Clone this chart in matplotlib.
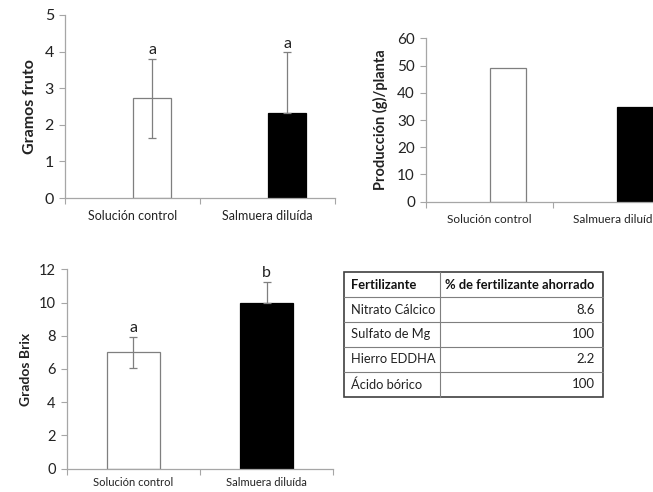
import matplotlib
matplotlib.use("Agg")
import matplotlib.pyplot as plt
from matplotlib.patches import Rectangle

plt.rcParams['font.family'] = ['Lato', 'DejaVu Sans']

categories = ["Solución control", "Salmuera diluída"]

fruit_g = [2.72, 2.33]
fruit_err_low = [1.07, 0.0]
fruit_err_high = [1.07, 1.65]
fruit_letters = ["a", "a"]

prod_g = [49.0, 34.7]

brix = [7.0, 10.0]
brix_err_low = [0.95, 0.0]
brix_err_high = [0.95, 1.25]
brix_letters = ["a", "b"]

table_header = ["Fertilizante", "% de fertilizante ahorrado"]
table_names = ["Nitrato Cálcico", "Sulfato de Mg", "Hierro EDDHA", "Ácido bórico"]
table_values = ["8.6", "100", "2.2", "100"]

W, H = 653, 492
fig = plt.figure(figsize=(W / 100, H / 100), dpi=100)

AX_COL = '#a6a6a6'
FACE = ['white', 'black']
EDGE = ['#7f7f7f', 'black']


def px_axes(x0, y_top, x1, y_bot):
    return fig.add_axes([x0 / W, 1 - y_bot / H, (x1 - x0) / W, (y_bot - y_top) / H])


def style(ax, ymax, step, ylabel, lab_size, tick_size, xlab_size, xlab_pad):
    ax.set_xlim(-0.5, 1.5)
    ax.set_ylim(0, ymax)
    ax.set_yticks(range(0, ymax + 1, step))
    for s in ['top', 'right']:
        ax.spines[s].set_visible(False)
    for s in ['left', 'bottom']:
        ax.spines[s].set_color(AX_COL)
        ax.spines[s].set_linewidth(0.9)
    ax.set_xticks([-0.5, 0.5, 1.5])
    ax.set_xticklabels([])
    ax.set_xticks([0, 1], minor=True)
    ax.set_xticklabels(categories, minor=True, fontsize=xlab_size, color='#222222')
    ax.tick_params(axis='x', which='minor', length=0, pad=xlab_pad)
    ax.tick_params(axis='x', which='major', length=4, color=AX_COL, direction='out')
    ax.tick_params(axis='y', length=4, color=AX_COL, labelsize=tick_size, labelcolor='#222222', pad=4)
    ax.set_ylabel(ylabel, fontsize=lab_size, fontweight='bold', color='#222222')
    ax.patch.set_alpha(0)


# Panel 1
ax1 = px_axes(65, 15, 335, 198)
for i in range(2):
    ax1.bar(i + 0.005, fruit_g[i], width=0.28, align='edge', color=FACE[i], edgecolor=EDGE[i], linewidth=0.9, zorder=2)
    xc = i + 0.145
    ax1.errorbar(xc, fruit_g[i], yerr=[[fruit_err_low[i]], [fruit_err_high[i]]], fmt='none',
                 ecolor='#7f7f7f', elinewidth=0.9, capsize=3, capthick=0.9, zorder=3)
    ax1.text(xc, fruit_g[i] + fruit_err_high[i] + 0.05, fruit_letters[i], ha='center', va='bottom',
             fontsize=11.5, color='#222222')
style(ax1, 5, 1, "Gramos fruto", 11.5, 11.5, 9, 9)
ax1.yaxis.set_label_coords(-0.105, 0.5)

# Panel 2
ax2 = px_axes(426, 38.3, 679.4, 201.7)
for i in range(2):
    ax2.bar(i + 0.005, prod_g[i], width=0.284, align='edge', color=FACE[i], edgecolor=EDGE[i], linewidth=0.9, zorder=2)
style(ax2, 60, 10, "Producción (g)/planta", 10.5, 11, 8.5, 9)
ax2.yaxis.set_label_coords(-0.15, 0.5)

# Panel 3
ax3 = px_axes(66.7, 269.3, 333.3, 468.7)
for i in range(2):
    ax3.bar(i, brix[i], width=0.40, color=FACE[i], edgecolor=EDGE[i], linewidth=0.9, zorder=2)
    ax3.errorbar(i, brix[i], yerr=[[brix_err_low[i]], [brix_err_high[i]]], fmt='none',
                 ecolor='#7f7f7f', elinewidth=0.9, capsize=3, capthick=0.9, zorder=3)
    ax3.text(i, brix[i] + brix_err_high[i] + 0.1, brix_letters[i], ha='center', va='bottom',
             fontsize=11.5, color='#222222')
style(ax3, 12, 2, "Grados Brix", 10, 10.5, 8, 6)
ax3.yaxis.set_label_coords(-0.13, 0.5)

# Table
axt = fig.add_axes([0, 0, 1, 1])
axt.set_xlim(0, W)
axt.set_ylim(H, 0)
axt.axis('off')
x0, xm, x1 = 344, 440, 603
y0, y1 = 272.3, 396.7
rh = (y1 - y0) / 5
for r in range(1, 5):
    axt.plot([x0, x1], [y0 + r * rh] * 2, color='#7f7f7f', lw=0.8)
axt.plot([xm, xm], [y0, y1], color='#7f7f7f', lw=0.8)
axt.add_patch(Rectangle((x0, y0), x1 - x0, y1 - y0, fill=False, edgecolor='#404040', lw=1.2))
rows = [table_header] + [[n, v] for n, v in zip(table_names, table_values)]
for r, (a, b) in enumerate(rows):
    yc = y0 + (r + 0.5) * rh
    if r == 0:
        axt.text(x0 + 7, yc, a, ha='left', va='center', fontsize=9.3, fontweight='bold', color='#111111')
        axt.text(xm + 5, yc, b, ha='left', va='center', fontsize=9.3, fontweight='bold', color='#111111')
    else:
        axt.text(x0 + 7, yc, a, ha='left', va='center', fontsize=9.3, color='#222222')
        axt.text(x1 - 8, yc, b, ha='right', va='center', fontsize=9.5, color='#222222')

fig.savefig("out.png", dpi=100)
